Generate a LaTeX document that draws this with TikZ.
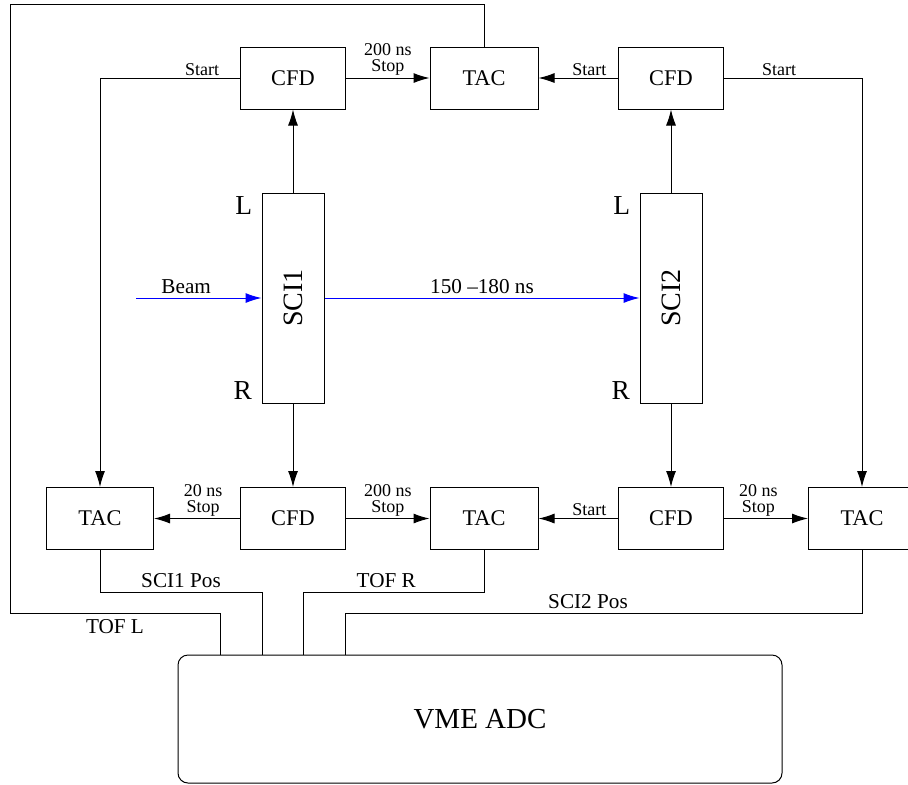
\documentclass[tikz,border=0pt]{standalone}
\usepackage{fontspec}
\setmainfont{Liberation Serif}
\usetikzlibrary{arrows.meta}

\begin{document}
\begin{tikzpicture}[x=0.5pt, y=-0.5pt, line width=0.5pt,
    unit/.style={draw, minimum width=52.5pt, minimum height=31pt, inner sep=0pt, font=\fontsize{11.2}{12}\selectfont},
    sci/.style={draw, minimum width=31pt, minimum height=105pt, inner sep=0pt, font=\fontsize{14}{15}\selectfont},
    sig/.style={-{Latex[length=8pt,width=5pt]}},
    lbl/.style={font=\fontsize{9}{8}\selectfont, align=center, inner sep=1pt, text=black},
    outlbl/.style={font=\fontsize{10.6}{12}\selectfont, inner sep=2pt, text=black},
    side/.style={font=\fontsize{13.7}{14}\selectfont, inner sep=2pt}]
  \useasboundingbox (0,0) rectangle (908,784);

  % top row
  \node [unit] (cfdTL) at (293,78) {CFD};
  \node [unit, minimum width=54pt] (tacT) at (484,78) {TAC};
  \node [unit] (cfdTR) at (671,78) {CFD};

  % scintillators
  \node [sci] (sciA) at (293,298) {\rotatebox{90}{SCI1}};
  \node [sci] (sciB) at (671,298) {\rotatebox{90}{SCI2}};
  \node [side, anchor=north east, xshift=-2.5pt] (sciAL) at (sciA.north west) {L};
  \node [side, anchor=south east, xshift=-2.5pt] (sciAR) at (sciA.south west) {R};
  \node [side, anchor=north east, xshift=-2.5pt] (sciBL) at (sciB.north west) {L};
  \node [side, anchor=south east, xshift=-2.5pt] (sciBR) at (sciB.south west) {R};

  % bottom row
  \node [unit, minimum width=53.5pt] (tacBL) at (100,518.5) {TAC};
  \node [unit] (cfdBL) at (293,518.5) {CFD};
  \node [unit, minimum width=54pt] (tacBM) at (484,518.5) {TAC};
  \node [unit] (cfdBR) at (671,518.5) {CFD};
  \node [unit, minimum width=53.5pt] (tacBR) at (862,518.5) {TAC};

  \node [draw, rounded corners=5pt, minimum width=302pt, minimum height=64pt, font=\fontsize{14.5}{16}\selectfont] (adc) at (480,719) {VME ADC};

  \coordinate (beam) at (136,298);
  \coordinate (frameTL) at (10,4);
  \coordinate (frameBL) at (10,613);
  \coordinate (busA) at (0,592);
  \coordinate (busB) at (0,613);
  \coordinate (adcA) at (220,655);
  \coordinate (adcB) at (262,655);
  \coordinate (adcC) at (303,655);
  \coordinate (adcD) at (345,655);

  % beam
  \draw [sig, blue] (beam) -- node [outlbl, above, pos=0.4] {Beam} (sciA.west);
  \draw [sig, blue] (sciA) -- node [outlbl, above] {150 --180 ns} (sciB);

  % signals
  \draw [sig] (sciA.north) -- (cfdTL.south);
  \draw [sig] (sciA.south) -- (cfdBL.north);
  \draw [sig] (sciB.north) -- (cfdTR.south);
  \draw [sig] (sciB.south) -- (cfdBR.north);
  \draw [sig] (cfdTL) -- node [lbl, above] {200 ns\\Stop} (tacT);
  \draw [sig] (cfdTR) -- node [lbl, above, pos=0.36] {Start} (tacT);
  \draw [sig] (cfdTL.west) -- node [lbl, above, pos=0.27] {Start} (cfdTL.west -| tacBL) -- (tacBL.north);
  \draw [sig] (cfdTR.east) -- node [lbl, above, pos=0.4] {Start} (cfdTR.east -| tacBR) -- (tacBR.north);
  \draw [sig] (cfdBL) -- node [lbl, above, pos=0.43] {20 ns\\Stop} (tacBL);
  \draw [sig] (cfdBL) -- node [lbl, above] {200 ns\\Stop} (tacBM);
  \draw [sig] (cfdBR) -- node [lbl, above, pos=0.36] {Start} (tacBM);
  \draw [sig] (cfdBR) -- node [lbl, above, pos=0.41] {20 ns\\Stop} (tacBR);

  % to the ADC
  \draw (tacT.north) |- (frameTL) -- (frameBL) -- node [outlbl, below, inner sep=3pt] {TOF L} (adcA |- frameBL) -- (adcA);
  \draw (tacBL.south) -- (tacBL.south |- busA) -- node [outlbl, above] {SCI1 Pos} (adcB |- busA) -- (adcB);
  \draw (tacBM.south) -- (tacBM.south |- busA) -- node [outlbl, above, pos=0.54] {TOF R} (adcC |- busA) -- (adcC);
  \draw (tacBR.south) -- (tacBR.south |- busB) -- node [outlbl, above, pos=0.53] {SCI2 Pos} (adcD |- busB) -- (adcD);
\end{tikzpicture}
\end{document}
